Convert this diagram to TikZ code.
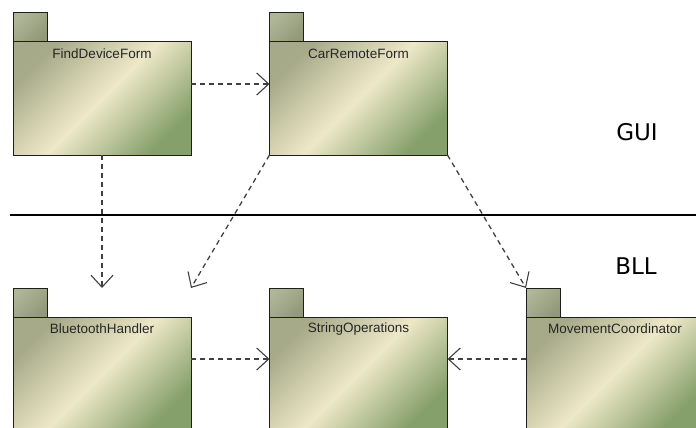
\documentclass[tikz,border=0pt]{standalone}
\usepackage{fontspec}
\setmainfont{Liberation Sans}
\newfontfamily\layerfont{DejaVu Sans}
\usetikzlibrary{arrows.meta,calc}

\definecolor{pkgtab}{HTML}{A2AA86}
\definecolor{pkgedge}{HTML}{1E1E1E}
\definecolor{pkgtl}{HTML}{A6AA88}
\definecolor{pkgmid}{HTML}{EEE8C8}
\definecolor{pkgbr}{HTML}{86A06B}
\definecolor{deptext}{HTML}{404040}

\tikzset{
  pkgbox/.style={minimum width=178pt, minimum height=142pt, inner sep=0pt, outer sep=0pt},
  pkgbody/.style={draw=pkgedge, line width=1pt, top color=pkgtl, bottom color=pkgbr,
    middle color=pkgmid, shading angle=45},
  pkgtabstyle/.style={draw=pkgedge, line width=1pt, top color=pkgtab!85!white, bottom color=pkgtab!90!black, shading angle=45},
  pkglabel/.style={font=\fontsize{13.5}{15}\selectfont, text=black!85, inner sep=0pt},
  layer/.style={font=\layerfont\fontsize{23}{26}\selectfont, inner sep=0pt},
  dep/.style={draw=deptext, line width=1.3pt, dash pattern=on 5pt off 4pt,
    -{Straight Barb[length=12pt,width=22pt,line width=1.1pt]}},
}

% package: invisible frame node, tab and body drawn from its anchors
\newcommand{\umlpkg}[3]{%
  \node[pkgbox] (#1) at (#2) {};
  \shade[pkgbody] ($(#1.north west)+(0,29)$) rectangle (#1.south east);
  \shade[pkgtabstyle] (#1.north west) rectangle ++(34,29);
  \node[pkglabel] (#1-name) at ($(#1.north)+(0,41)$) {#3};
}

\begin{document}
\begin{tikzpicture}[x=1pt,y=-1pt]
  \useasboundingbox (0,0) rectangle (696,428);
  \clip (0,0) rectangle (696,428);

  % layer separator and layer names
  \coordinate (sepL) at (10,215);
  \coordinate (sepR) at (696,215);
  \draw[line width=2.5pt] (sepL) -- (sepR);
  \node[layer] (gui) at (637,132) {GUI};
  \node[layer] (bll) at (636,266) {BLL};

  % packages
  \umlpkg{fdf}{102,84}{FindDeviceForm}
  \umlpkg{crf}{358.5,84}{CarRemoteForm}
  \umlpkg{bth}{102,359}{BluetoothHandler}
  \umlpkg{sop}{358.5,359}{StringOperations}
  \umlpkg{mvc}{615,359}{MovementCoordinator}

  % dependencies
  \draw[dep] (fdf.east) -- (crf.west);
  \draw[dep] (fdf.south) -- (bth.north);
  \draw[dep] (crf.south west) -- (bth.north east);
  \draw[dep] (crf.south east) -- (mvc.north west);
  \draw[dep] (bth.east) -- (sop.west);
  \draw[dep] (mvc.west) -- (sop.east);
\end{tikzpicture}
\end{document}
